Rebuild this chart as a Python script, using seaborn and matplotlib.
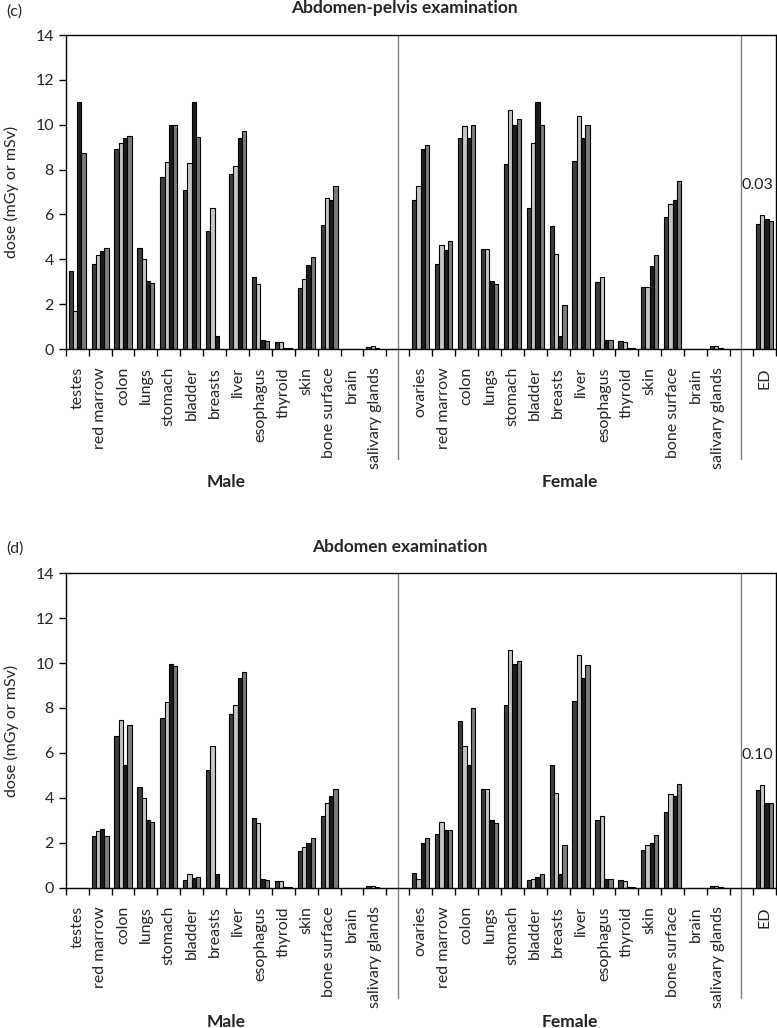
import numpy as np
import pandas as pd
import seaborn as sns
import matplotlib.pyplot as plt
import matplotlib.transforms as mtransforms

# organ labels (same order in both panels)
male_organs = ["testes", "red marrow", "colon", "lungs", "stomach", "bladder", "breasts",
               "liver", "esophagus", "thyroid", "skin", "bone surface", "brain", "salivary glands"]
female_organs = ["ovaries", "red marrow", "colon", "lungs", "stomach", "bladder", "breasts",
                 "liver", "esophagus", "thyroid", "skin", "bone surface", "brain", "salivary glands"]
series = ["series 1", "series 2", "series 3", "series 4"]
colors = ["#3d3d3d", "#c6c6c6", "#1c1c1c", "#7c7c7c"]

# (c) abdomen-pelvis, one row of 4 series per organ
c_male = [[3.5, 1.7, 11.0, 8.75], [3.8, 4.2, 4.35, 4.5], [8.9, 9.2, 9.4, 9.5],
          [4.5, 4.0, 3.05, 2.95], [7.65, 8.35, 10.0, 10.0], [7.1, 8.3, 11.0, 9.45],
          [5.25, 6.3, 0.6, 0.0], [7.8, 8.15, 9.4, 9.7], [3.2, 2.9, 0.4, 0.35],
          [0.3, 0.3, 0.05, 0.05], [2.7, 3.1, 3.75, 4.1], [5.55, 6.75, 6.65, 7.25],
          [0.0, 0.0, 0.0, 0.0], [0.1, 0.12, 0.05, 0.02]]
c_female = [[6.64, 7.28, 8.94, 9.09], [3.8, 4.62, 4.4, 4.8], [9.4, 9.93, 9.4, 9.98],
            [4.44, 4.44, 3.05, 2.9], [8.23, 10.65, 10.0, 10.24], [6.27, 9.17, 11.0, 9.98],
            [5.5, 4.25, 0.6, 1.95], [8.4, 10.39, 9.42, 9.98], [3.0, 3.2, 0.4, 0.4],
            [0.35, 0.3, 0.05, 0.05], [2.75, 2.75, 3.7, 4.2], [5.87, 6.45, 6.63, 7.5],
            [0.0, 0.0, 0.0, 0.0], [0.15, 0.15, 0.05, 0.02]]
c_ed = [5.56, 5.97, 5.79, 5.69]
c_ed_note = "0.03"

# (d) abdomen
d_male = [[0.0, 0.0, 0.0, 0.0], [2.3, 2.52, 2.6, 2.3], [6.74, 7.45, 5.48, 7.26],
          [4.49, 4.0, 3.04, 2.95], [7.56, 8.27, 9.97, 9.85], [0.35, 0.6, 0.45, 0.5],
          [5.26, 6.3, 0.6, 0.0], [7.73, 8.13, 9.32, 9.61], [3.11, 2.89, 0.4, 0.35],
          [0.3, 0.3, 0.05, 0.05], [1.66, 1.82, 2.0, 2.24], [3.19, 3.78, 4.07, 4.41],
          [0.0, 0.0, 0.0, 0.0], [0.1, 0.1, 0.05, 0.02]]
d_female = [[0.65, 0.4, 2.0, 2.22], [2.41, 2.93, 2.59, 2.59], [7.44, 6.3, 5.48, 8.0],
            [4.41, 4.41, 3.04, 2.89], [8.15, 10.56, 9.97, 10.07], [0.35, 0.4, 0.5, 0.6],
            [5.48, 4.22, 0.6, 1.93], [8.33, 10.34, 9.33, 9.93], [3.0, 3.19, 0.4, 0.4],
            [0.35, 0.3, 0.05, 0.05], [1.7, 1.93, 2.0, 2.36], [3.36, 4.19, 4.07, 4.64],
            [0.0, 0.0, 0.0, 0.0], [0.1, 0.1, 0.05, 0.02]]
d_ed = [4.37, 4.59, 3.78, 3.78]
d_ed_note = "0.10"

sns.set_style("ticks")
plt.rcParams["font.family"] = ["Lato", "DejaVu Sans"]

# slot order: 14 male, gap, 14 female, gap, ED
slots = [f"M:{o}" for o in male_organs] + ["gap1"] + [f"F:{o}" for o in female_organs] + ["gap2", "ED"]
slot_labels = male_organs + [""] + female_organs + ["", "ED"]


def make_df(male, female, ed):
    rows = []
    for organ, vals in zip(male_organs, male):
        for s, v in zip(series, vals):
            rows.append((f"M:{organ}", s, v))
    for organ, vals in zip(female_organs, female):
        for s, v in zip(series, vals):
            rows.append((f"F:{organ}", s, v))
    for s, v in zip(series, ed):
        rows.append(("ED", s, v))
    return pd.DataFrame(rows, columns=["slot", "series", "dose"])


def draw_panel(ax, df, note, note_y):
    sns.barplot(data=df, x="slot", y="dose", hue="series", order=slots, hue_order=series,
                palette=colors, width=0.75, edgecolor="black", linewidth=0.8,
                saturation=1, errorbar=None, legend=False, ax=ax)
    ax.set_xlim(-0.5, len(slots) - 0.5)
    ax.set_ylim(0, 14)
    ax.set_yticks(np.arange(0, 15, 2))
    ax.set_xticks(range(len(slots)))
    ax.set_xticklabels(slot_labels, rotation=90, fontsize=11.5)
    ax.set_xticks(np.arange(-0.5, len(slots), 1), minor=True)
    ax.tick_params(axis="x", which="major", length=0, pad=13)
    ax.tick_params(axis="x", which="minor", length=5, width=1, color="black", direction="out")
    ax.tick_params(axis="y", length=5, width=1, color="black", labelsize=11.5, direction="out")
    ax.set_xlabel("")
    ax.set_ylabel("dose (mGy or mSv)", fontsize=11.5)
    ax.yaxis.set_label_coords(-0.066, 0.5)
    for sp in ax.spines.values():
        sp.set_visible(True)
        sp.set_color("black")
        sp.set_linewidth(1)
    trans = mtransforms.blended_transform_factory(ax.transData, ax.transAxes)
    for xpos in (14, 29):
        ax.plot([xpos, xpos], [1, -0.35], transform=trans, color="#808080", lw=1, clip_on=False)
    ax.text(6.5, -0.425, "Male", transform=trans, ha="center", va="center",
            fontsize=12.5, fontweight="bold")
    ax.text(21.5, -0.425, "Female", transform=trans, ha="center", va="center",
            fontsize=12.5, fontweight="bold")
    ax.text(29.7, note_y, note, ha="center", va="center", fontsize=11.5, color="#222222")


fig = plt.figure(figsize=(7.77, 10.28), dpi=100)
ax_c = fig.add_axes([0.0846, 0.6605, 0.9138, 0.3054])
ax_d = fig.add_axes([0.0846, 0.1362, 0.9138, 0.3064])

draw_panel(ax_c, make_df(c_male, c_female, c_ed), c_ed_note, 7.3)
draw_panel(ax_d, make_df(d_male, d_female, d_ed), d_ed_note, 5.9)

fig.text(0.52, 0.992, "Abdomen-pelvis examination", ha="center", va="center",
         fontsize=12.5, fontweight="bold")
fig.text(0.515, 0.468, "Abdomen examination", ha="center", va="center",
         fontsize=12.5, fontweight="bold")
fig.text(0.008, 0.989, "(c)", ha="left", va="center", fontsize=11.5)
fig.text(0.008, 0.466, "(d)", ha="left", va="center", fontsize=11.5)

fig.savefig("out.png", dpi=100)
